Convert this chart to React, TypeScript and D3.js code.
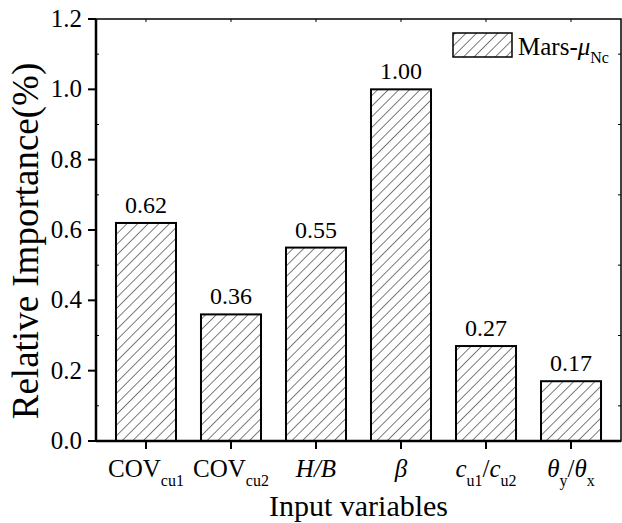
import React from "react";
import * as d3 from "d3";

const categories = ["COVcu1", "COVcu2", "H/B", "beta", "cu1/cu2", "thetay/thetax"];
const importance = [0.62, 0.36, 0.55, 1.0, 0.27, 0.17];
const yTicks = [0, 0.2, 0.4, 0.6, 0.8, 1.0, 1.2];
const yMinorTicks = [0.1, 0.3, 0.5, 0.7, 0.9, 1.1];
const seriesName = "Mars-";

const W = 622;
const H = 523;
const m = { left: 96, right: 1, top: 19, bottom: 82 };
const FONT = "Liberation Serif, DejaVu Serif, serif";

function CatLabel({ k }: { k: string }) {
  const sub = { fontSize: 16 } as const;
  switch (k) {
    case "COVcu1":
      return (<>COV<tspan dy={9} style={sub}>cu1</tspan></>);
    case "COVcu2":
      return (<>COV<tspan dy={9} style={sub}>cu2</tspan></>);
    case "H/B":
      return (<tspan fontStyle="italic">H/B</tspan>);
    case "beta":
      return (<tspan fontStyle="italic">β</tspan>);
    case "cu1/cu2":
      return (
        <>
          <tspan fontStyle="italic">c</tspan>
          <tspan dy={9} style={sub}>u1</tspan>
          <tspan dy={-9}>/</tspan>
          <tspan fontStyle="italic">c</tspan>
          <tspan dy={9} style={sub}>u2</tspan>
        </>
      );
    default:
      return (
        <>
          <tspan fontStyle="italic">θ</tspan>
          <tspan dy={9} style={sub}>y</tspan>
          <tspan dy={-9}>/</tspan>
          <tspan fontStyle="italic">θ</tspan>
          <tspan dy={9} style={sub}>x</tspan>
        </>
      );
  }
}

export default function App() {
  const x = d3
    .scaleBand<string>()
    .domain(categories)
    .range([m.left, W - m.right])
    .paddingInner(0.294)
    .paddingOuter(0.235);
  const y = d3.scaleLinear().domain([0, 1.2]).range([H - m.bottom, m.top]);
  const x0 = m.left;
  const x1 = W - m.right;
  const y0 = y(0);
  const y1 = y(1.2);
  const bw = x.bandwidth();

  return (
    <svg
      width={W}
      height={H}
      style={{ position: "absolute", left: 0, top: 0, background: "#fff", fontFamily: FONT }}
    >
      <defs>
        <pattern id="hatch" width={7.5} height={7.5} patternUnits="userSpaceOnUse" patternTransform="rotate(45)">
          <line x1={0} y1={0} x2={0} y2={7.5} stroke="#111" strokeWidth={1.1} />
        </pattern>
      </defs>

      {categories.map((c, i) => (
        <g key={c}>
          <rect
            x={x(c)!}
            y={y(importance[i])}
            width={bw}
            height={y0 - y(importance[i])}
            fill="url(#hatch)"
            stroke="#000"
            strokeWidth={2}
          />
          <text
            x={x(c)! + bw / 2}
            y={y(importance[i]) - 10}
            textAnchor="middle"
            fontSize={24}
            fill="#000"
          >
            {importance[i].toFixed(2)}
          </text>
        </g>
      ))}

      {/* frame */}
      <rect x={x0} y={y1} width={x1 - x0} height={y0 - y1} fill="none" stroke="#000" strokeWidth={1.5} />
      <line x1={x0} x2={x1} y1={y0} y2={y0} stroke="#000" strokeWidth={2.5} />
      <line x1={x0} x2={x0} y1={y1} y2={y0} stroke="#000" strokeWidth={2.5} />

      {/* y ticks */}
      {yTicks.map((t) => (
        <g key={t}>
          <line x1={x0 - 8} x2={x0} y1={y(t)} y2={y(t)} stroke="#000" strokeWidth={2} />
          <text x={x0 - 14} y={y(t) + 8} textAnchor="end" fontSize={25} fill="#000">
            {t.toFixed(1)}
          </text>
        </g>
      ))}
      {yMinorTicks.map((t) => (
        <g key={t}>
          <line x1={x0} x2={x0 + 3} y1={y(t)} y2={y(t)} stroke="#000" strokeWidth={1} />
          <line x1={x1} x2={x1 - 3} y1={y(t)} y2={y(t)} stroke="#000" strokeWidth={1} />
        </g>
      ))}

      {/* x ticks */}
      {categories.map((c) => {
        const cx = x(c)! + bw / 2;
        return (
          <g key={c}>
            <line x1={cx} x2={cx} y1={y0} y2={y0 + 8} stroke="#000" strokeWidth={2} />
            <line x1={cx} x2={cx} y1={y1} y2={y1 + 3} stroke="#000" strokeWidth={1} />
            <text x={cx} y={y0 + 36} textAnchor="middle" fontSize={25} fill="#000">
              <CatLabel k={c} />
            </text>
          </g>
        );
      })}

      {/* axis titles */}
      <text
        transform="translate(38, 241) rotate(-90)"
        textAnchor="middle"
        fontSize={37}
        fill="#000"
      >
        Relative Importance(%)
      </text>
      <text x={(x0 + x1) / 2} y={516} textAnchor="middle" fontSize={30} fill="#000">
        Input variables
      </text>

      {/* legend */}
      <rect x={453} y={33} width={59} height={24} fill="url(#hatch)" stroke="#000" strokeWidth={1.5} />
      <text x={518} y={55} fontSize={25} fill="#000">
        {seriesName}
        <tspan fontStyle="italic">μ</tspan>
        <tspan dy={8} fontSize={16}>Nc</tspan>
      </text>
    </svg>
  );
}
